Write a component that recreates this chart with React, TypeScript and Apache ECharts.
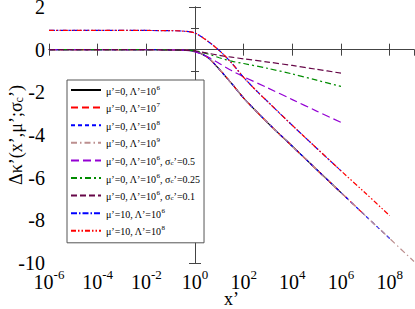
import React, { useEffect, useRef } from "react";
import * as echarts from "echarts";

// x positions stored as log10(x')
const mainLogX = [-6, -2, -1, -0.5, 0, 0.5, 1, 1.5, 2, 3, 4, 5, 6, 7, 8, 9];
const mainY = [0, 0, -0.01, -0.02, -0.08, -0.34, -0.92, -1.58, -2.27, -3.44, -4.53, -5.62, -6.7, -7.78, -8.85, -9.93];

const sigmaLogX = [-6, -2, -1, -0.5, 0, 0.5, 1, 1.5, 2, 3, 4, 5, 6];
const sigma05Y = [0, 0, -0.01, -0.02, -0.1, -0.32, -0.65, -0.98, -1.27, -1.8, -2.34, -2.88, -3.41];
const sigma025Y = [0, 0, -0.01, -0.02, -0.06, -0.19, -0.38, -0.54, -0.65, -0.88, -1.14, -1.43, -1.72];
const sigma01Y = [0, 0, -0.01, -0.02, -0.06, -0.16, -0.27, -0.35, -0.43, -0.58, -0.74, -0.92, -1.1];

const mu10LogX = [-6, -2, -1, -0.5, 0, 0.5, 1, 1.5, 2, 2.5, 3, 4, 5, 6, 7, 8];
const mu10Y = [0.9, 0.9, 0.89, 0.87, 0.78, 0.42, -0.04, -0.62, -1.3, -1.9, -2.45, -3.55, -4.62, -5.68, -6.72, -7.78];

// cut-off exponents (Λ')
const lambdaMain = [6, 7, 8, 9];
const lambdaMu10 = [6, 8];

const seriesNames = [
  "mu0L6",
  "mu0L7",
  "mu0L8",
  "mu0L9",
  "mu0L6s05",
  "mu0L6s025",
  "mu0L6s01",
  "mu10L6",
  "mu10L8",
];
const legendLabels = [
  "{t|μ’=0, Λ’=10}{s|6}",
  "{t|μ’=0, Λ’=10}{s|7}",
  "{t|μ’=0, Λ’=10}{s|8}",
  "{t|μ’=0, Λ’=10}{s|9}",
  "{t|μ’=0, Λ’=10}{s|6}{t|, σ}{b|c}{t|’=0.5}",
  "{t|μ’=0, Λ’=10}{s|6}{t|, σ}{b|c}{t|’=0.25}",
  "{t|μ’=0, Λ’=10}{s|6}{t|, σ}{b|c}{t|’=0.1}",
  "{t|μ’=10, Λ’=10}{s|6}",
  "{t|μ’=10, Λ’=10}{s|8}",
];
const colors = ["#000000", "#ff0000", "#0000ff", "#bc8f8f", "#9400d3", "#008b00", "#670748", "#0000ff", "#ff0000"];
const dashes: (string | number[])[] = [
  "solid",
  [7, 4],
  [4, 3],
  [6, 3, 1.5, 3],
  [8, 4],
  [6, 3, 2, 3],
  [6, 3],
  [6, 2, 1.5, 2],
  [5, 2, 1.5, 2, 1.5, 2],
];

const FONT = "Liberation Serif";

function upTo(xs: number[], ys: number[], maxX: number) {
  const out: number[][] = [];
  xs.forEach((x, i) => {
    if (x <= maxX) out.push([x, ys[i]]);
  });
  return out;
}

export default function App() {
  const ref = useRef<HTMLDivElement>(null);
  useEffect(() => {
    document.body.style.margin = "0";
    const chart = echarts.init(ref.current!, null, { renderer: "svg" });
    const datasets = [
      upTo(mainLogX, mainY, lambdaMain[0]),
      upTo(mainLogX, mainY, lambdaMain[1]),
      upTo(mainLogX, mainY, lambdaMain[2]),
      upTo(mainLogX, mainY, lambdaMain[3]),
      upTo(sigmaLogX, sigma05Y, 6),
      upTo(sigmaLogX, sigma025Y, 6),
      upTo(sigmaLogX, sigma01Y, 6),
      upTo(mu10LogX, mu10Y, lambdaMu10[0]),
      upTo(mu10LogX, mu10Y, lambdaMu10[1]),
    ];
    const axisLine = { show: true, lineStyle: { color: "#444", width: 1 } };
    const xLabelFmt = (v: number) => `{b|10}{s|${v}}`;
    const xRich = {
      b: { fontSize: 20, fontFamily: FONT, color: "#000", lineHeight: 24, verticalAlign: "bottom" },
      s: { fontSize: 13, fontFamily: FONT, color: "#000", lineHeight: 24, verticalAlign: "top" },
    };
    chart.setOption({
      animation: false,
      textStyle: { fontFamily: FONT },
      grid: { left: 49, top: 7, right: 1, bottom: 46, containLabel: false, outerBoundsMode: "none" },
      legend: {
        orient: "vertical",
        left: 67,
        top: 80,
        data: seriesNames,
        itemWidth: 30,
        itemHeight: 12,
        itemGap: 5.6,
        padding: [4, 4, 6, 3],
        borderColor: "#555",
        borderWidth: 1,
        backgroundColor: "#fff",
        selectedMode: false,
        itemStyle: { color: "transparent", borderColor: "transparent", borderWidth: 0 },
        formatter: (name: string) => legendLabels[seriesNames.indexOf(name)],
        textStyle: {
          fontFamily: FONT,
          rich: {
            t: { fontSize: 10, fontFamily: FONT, color: "#000", lineHeight: 12, verticalAlign: "bottom" },
            s: { fontSize: 7, fontFamily: FONT, color: "#000", lineHeight: 12, verticalAlign: "top" },
            b: { fontSize: 7, fontFamily: FONT, color: "#000", lineHeight: 12, verticalAlign: "bottom" },
          },
        },
      },
      xAxis: [
        {
          type: "value",
          position: "bottom",
          min: -6,
          max: 9,
          interval: 2,
          axisLine,
          axisTick: { show: true, inside: true, length: 6, lineStyle: { color: "#444" } },
          splitLine: { show: false },
          axisLabel: { formatter: xLabelFmt, rich: xRich, margin: 5, showMaxLabel: false },
          name: "x’",
          nameLocation: "middle",
          nameGap: 27,
          nameMoveOverlap: false,
          nameTextStyle: { fontSize: 18, fontFamily: FONT, color: "#000", lineHeight: 18 },
        },
        {
          type: "value",
          position: "top",
          min: -6,
          max: 9,
          interval: 2,
          axisLine,
          axisTick: { show: true, inside: true, length: 6, lineStyle: { color: "#444" } },
          splitLine: { show: false },
          axisLabel: { show: false },
        },
      ],
      yAxis: [
        {
          type: "value",
          position: "left",
          min: -10,
          max: 2,
          interval: 2,
          axisLine,
          axisTick: { show: true, inside: true, length: 6, lineStyle: { color: "#444" } },
          minorTick: { show: true, splitNumber: 2, length: 4, lineStyle: { color: "#444" } },
          splitLine: { show: false },
          axisLabel: { fontSize: 20, fontFamily: FONT, color: "#000", margin: 4, lineHeight: 14 },
          name: "{t|Δκ’(x’,μ’;σ}{b|c}{t|’)}",
          nameLocation: "middle",
          nameGap: 24,
          nameMoveOverlap: false,
          nameTextStyle: {
            rich: {
              t: { fontSize: 18, fontFamily: FONT, color: "#000", lineHeight: 22, verticalAlign: "bottom" },
              b: { fontSize: 12, fontFamily: FONT, color: "#000", lineHeight: 22, verticalAlign: "bottom" },
            },
          },
        },
        {
          type: "value",
          position: "right",
          min: -10,
          max: 2,
          interval: 2,
          axisLine,
          axisTick: { show: true, inside: true, length: 6, lineStyle: { color: "#444" } },
          minorTick: { show: true, splitNumber: 2, length: 4, lineStyle: { color: "#444" } },
          splitLine: { show: false },
          axisLabel: { show: false },
        },
      ],
      series: seriesNames.map((name, i) => ({
        name,
        type: "line",
        xAxisIndex: 0,
        yAxisIndex: 0,
        data: datasets[i],
        symbol: "none",
        smooth: 0.3,
        lineStyle: { color: colors[i], width: 1.2, type: dashes[i] },
        itemStyle: { color: colors[i] },
        z: 2 + i,
      })),
    });
    return () => chart.dispose();
  }, []);
  return <div ref={ref} style={{ width: 415, height: 309 }} />;
}
